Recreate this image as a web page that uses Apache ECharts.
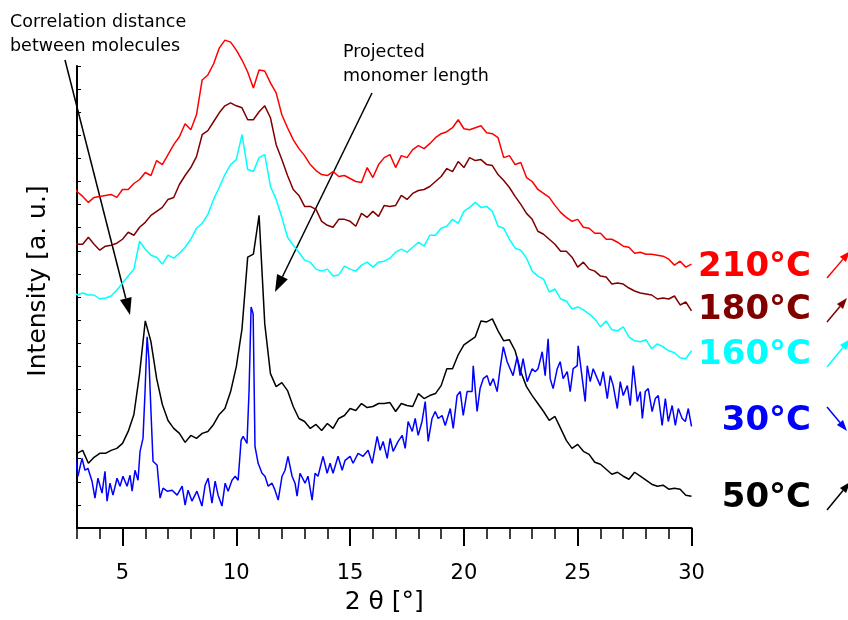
<!DOCTYPE html>
<html><head><meta charset="utf-8">
<script src="https://cdn.jsdelivr.net/npm/echarts@6/dist/echarts.min.js"></script>
<style>html,body{margin:0;padding:0;background:#fff}#c{width:848px;height:620px}</style>
</head><body><div id="c"></div>
<script>
// 2θ sampling positions (degrees) for the smoother curves
const twoTheta = [2.75,
 3,3.25,3.5,3.75, 4,4.25,4.5,4.75, 5,5.25,5.5,5.75, 6,6.25,6.5,6.75, 7,7.25,7.5,7.75,
 8,8.25,8.5,8.75, 9,9.25,9.5,9.75, 10,10.25,10.5,10.75, 11,11.25,11.5,11.75, 12,12.25,12.5,12.75,
 13,13.25,13.5,13.75, 14,14.25,14.5,14.75, 15,15.25,15.5,15.75, 16,16.25,16.5,16.75,
 17,17.25,17.5,17.75, 18,18.25,18.5,18.75, 19,19.25,19.5,19.75, 20,20.25,20.5,20.75,
 21,21.25,21.5,21.75, 22,22.25,22.5,22.75, 23,23.25,23.5,23.75, 24,24.25,24.5,24.75,
 25,25.25,25.5,25.75, 26,26.25,26.5,26.75, 27,27.25,27.5,27.75, 28,28.25,28.5,28.75,
 29,29.25,29.5,29.75, 30];

// intensities [a. u.] (vertically offset curves as in the figure)
const i210 = [345,
 338,333,327,332, 333,334,335,332, 340,340,346,350, 357,354,369,365, 375,385,393,406,
 400,415,450,455, 466,482,490,488, 480,470,458,442, 460,459,447,437, 415,402,390,381,
 374,365,359,355, 354,358,353,354, 351,348,347,362, 352,365,372,375,
 362,374,372,380, 384,381,386,392, 396,398,402,410, 401,400,402,404,
 397,396,392,372, 374,365,367,352, 348,340,336,332, 324,317,312,308,
 310,302,301,296, 296,290,290,287, 283,282,276,277, 275,275,274,273,
 270,264,268,262, 265];
const i180 = [288,
 285,285,292,285, 279,283,284,286, 290,297,294,302, 307,314,318,322, 330,332,345,354,
 362,373,395,399, 408,417,424,427, 424,422,410,410, 418,424,412,385, 370,354,340,334,
 323,323,320,308, 304,302,310,310, 308,303,316,312, 318,313,324,323,
 324,334,330,336, 339,340,343,348, 353,361,358,368, 362,372,369,370,
 365,364,355,349, 342,333,325,316, 310,298,295,290, 285,278,278,272,
 262,267,260,258, 253,252,245,246, 245,241,238,236, 235,234,230,231,
 230,233,224,227, 218];
const i160 = [240,
 234,236,234,234, 230,231,233,239, 246,253,260,288, 280,274,272,265, 274,271,276,282,
 290,301,306,315, 330,342,355,365, 370,395,360,358, 372,375,343,330, 312,292,284,277,
 269,267,260,258, 260,253,254,263, 260,258,264,267, 262,267,268,271,
 277,280,277,282, 287,283,294,294, 301,303,310,306, 318,322,327,322,
 323,318,303,301, 290,281,279,271, 258,253,250,237, 240,230,228,220,
 222,219,215,210, 202,208,199,198, 202,192,188,187, 189,180,185,182,
 178,176,171,170, 178];
const i50 = [90,
 75,78,65,71, 75,75,78,80, 85,97,114,155, 208,187,150,124, 108,100,95,86,
 93,90,95,97, 104,114,120,137, 162,200,272,275, 314,205,155,142, 146,138,122,110,
 107,100,104,98, 105,100,110,113, 120,118,125,121, 122,125,125,126,
 117,125,123,122, 135,130,133,135, 143,160,160,174, 184,188,192,208,
 207,210,198,188, 189,178,157,142, 133,125,117,108, 112,100,88,80,
 84,77,74,66, 64,59,54,56, 52,49,56,52, 48,44,42,43,
 39,40,39,33, 32];

// the noisy 30°C scan, read at finer spacing
const theta30 = [2.82,2.91,3.04,3.22,3.35,3.48,3.66,3.79,3.92,4.10,4.23,4.32,4.45,4.58,4.76,4.89,
 5.02,5.20,5.33,5.42,5.55,5.68,5.77,5.90,5.99,6.08,6.16,6.25,6.34,6.52,6.65,6.78,6.96,
 7.18,7.40,7.62,7.75,7.88,8.05,8.27,8.49,8.63,8.76,8.93,9.07,9.20,9.37,9.51,9.64,9.81,9.95,
 10.08,10.21,10.30,10.47,10.56,10.65,10.74,10.82,10.96,11.13,11.26,11.40,11.57,11.70,11.84,
 12.01,12.14,12.27,12.45,12.58,12.67,12.80,13.02,13.15,13.33,13.46,13.59,13.81,13.99,
 14.12,14.25,14.47,14.65,14.78,15.00,15.13,15.35,15.57,15.79,15.97,16.19,16.32,16.45,16.63,16.76,16.89,
 17.11,17.29,17.42,17.55,17.73,17.86,17.99,18.16,18.30,18.43,18.60,18.74,18.87,
 19.04,19.18,19.40,19.53,19.70,19.84,19.97,20.14,20.36,20.41,20.58,20.71,20.85,
 21.02,21.15,21.29,21.46,21.59,21.73,21.90,22.03,22.16,22.34,22.47,22.60,22.78,
 23.00,23.13,23.26,23.44,23.57,23.70,23.79,23.92,24.10,24.23,24.36,24.54,24.67,24.80,24.98,
 25.02,25.20,25.33,25.42,25.55,25.68,25.86,25.99,26.12,26.30,26.43,26.56,26.74,26.87,
 27.00,27.18,27.31,27.44,27.62,27.75,27.84,27.97,28.10,28.27,28.41,28.54,28.71,28.85,28.98,
 29.15,29.29,29.42,29.59,29.73,29.86,30.00];
const i30 = [72,73,52,70,58,60,47,30,50,35,57,27,45,33,50,42,
 52,42,53,37,58,48,77,90,137,192,170,117,67,63,30,40,37,
 38,33,42,23,38,27,37,22,43,50,25,47,33,22,45,37,48,52,
 48,88,92,85,138,222,215,82,65,55,52,42,45,38,28,
 52,58,72,52,45,32,55,45,52,28,55,52,72,55,
 65,55,72,58,68,72,65,75,72,78,65,92,78,87,70,90,77,
 87,93,80,107,97,110,93,107,127,87,110,117,110,
 113,103,120,100,133,137,113,137,137,163,117,140,150,
 153,143,150,137,160,182,167,160,153,172,153,170,147,
 160,157,160,177,153,190,150,140,160,167,150,157,137,160,163,
 183,150,127,163,147,160,150,143,157,130,153,143,120,147,
 133,143,123,163,127,137,110,137,140,117,130,133,103,130,107,
 123,103,120,110,107,120,102];

const seriesNames = ['50°C','30°C','160°C','180°C','210°C'];
const seriesColors = ['#000000','#0000ff','#00ffff','#800000','#ff0000'];
const seriesX = [twoTheta, theta30, twoTheta, twoTheta, twoTheta];
const seriesY = [i50, i30, i160, i180, i210];

const xMajorTicks = [5,10,15,20,25,30];
const xMinorTicks = [3,4,5,6,7,8,9,10,11,12,13,14,15,16,17,18,19,20,21,22,23,24,25,26,27,28,29,30];

const FONT = '"DejaVu Sans", "Liberation Sans", sans-serif';

function arrow(x1, y1, x2, y2, color, hl, hw, lw) {
  const a = Math.atan2(y2 - y1, x2 - x1);
  const c = Math.cos(a), s = Math.sin(a);
  const bx = x2 - hl * c, by = y2 - hl * s;
  const px = -s * hw / 2, py = c * hw / 2;
  return [
    {type: 'line', silent: true, shape: {x1: x1, y1: y1, x2: bx, y2: by}, style: {stroke: color, lineWidth: lw}},
    {type: 'polygon', silent: true, shape: {points: [[x2, y2], [bx + px, by + py], [bx - px, by - py]]}, style: {fill: color}}
  ];
}

const labelPos = [  // right-hand temperature labels (pixel layout)
  {t: '210°C', c: '#ff0000', y: 267, a: [827, 278, 850, 251]},
  {t: '180°C', c: '#800000', y: 310, a: [827, 322, 847, 298]},
  {t: '160°C', c: '#00ffff', y: 355, a: [827, 367, 850, 339]},
  {t: '30°C',  c: '#0000ff', y: 421, a: [827, 407, 847, 431]},
  {t: '50°C',  c: '#000000', y: 498, a: [827, 510, 850, 482]}
];

const graphics = [];
labelPos.forEach(function (l) {
  graphics.push({type: 'text', silent: true, style: {x: 811, y: l.y, text: l.t, fill: l.c,
    font: 'bold 34px ' + FONT, align: 'right', verticalAlign: 'middle'}});
  arrow(l.a[0], l.a[1], l.a[2], l.a[3], l.c, 11, 8, 1.5).forEach(function (g) { graphics.push(g); });
});
graphics.push({type: 'text', silent: true, style: {x: 10, y: 22, text: 'Correlation distance', fill: '#000', font: '17.5px ' + FONT, align: 'left', verticalAlign: 'middle'}});
graphics.push({type: 'text', silent: true, style: {x: 10, y: 46, text: 'between molecules', fill: '#000', font: '17.5px ' + FONT, align: 'left', verticalAlign: 'middle'}});
graphics.push({type: 'text', silent: true, style: {x: 343, y: 52, text: 'Projected', fill: '#000', font: '17.5px ' + FONT, align: 'left', verticalAlign: 'middle'}});
graphics.push({type: 'text', silent: true, style: {x: 343, y: 76, text: 'monomer length', fill: '#000', font: '17.5px ' + FONT, align: 'left', verticalAlign: 'middle'}});
graphics.push({type: 'text', silent: true, x: 38, y: 281, rotation: Math.PI / 2,
  style: {x: 0, y: 0, text: 'Intensity [a. u.]', fill: '#000', font: '25px ' + FONT, align: 'center', verticalAlign: 'middle'}});
arrow(65, 60, 130, 315, '#000', 17, 12, 1.5).forEach(function (g) { graphics.push(g); });
arrow(372, 93, 275, 292, '#000', 17, 12, 1.5).forEach(function (g) { graphics.push(g); });

const chart = echarts.init(document.getElementById('c'), null, {renderer: 'canvas'});
chart.setOption({
  animation: false,
  backgroundColor: '#ffffff',
  grid: {left: 77, right: 156.5, top: 66, bottom: 90, containLabel: false},
  xAxis: [{
    type: 'value', min: 3, max: 30, position: 'bottom',
    name: '2 θ [°]', nameLocation: 'middle', nameGap: 62,
    nameTextStyle: {fontFamily: FONT, fontSize: 25, color: '#000'},
    axisLine: {show: true, lineStyle: {color: '#000', width: 2}},
    axisTick: {show: true, customValues: xMajorTicks, length: 18, lineStyle: {color: '#000', width: 2}},
    axisLabel: {show: true, customValues: xMajorTicks, margin: 35, fontFamily: FONT, fontSize: 21, color: '#000'},
    splitLine: {show: false}
  }, {
    type: 'value', min: 3, max: 30, position: 'bottom',
    axisLine: {show: false},
    axisTick: {show: true, customValues: xMinorTicks, length: 11, lineStyle: {color: '#000', width: 1.5}},
    axisLabel: {show: false},
    splitLine: {show: false}
  }],
  yAxis: {
    type: 'value', min: 0, max: 464, interval: 23.2,
    axisLine: {show: true, lineStyle: {color: '#000', width: 2}},
    axisTick: {show: true, inside: true, length: 4, lineStyle: {color: '#000', width: 1}},
    axisLabel: {show: false},
    splitLine: {show: false}
  },
  series: seriesY.map(function (vals, k) {
    const xs = seriesX[k];
    return {
      name: seriesNames[k], type: 'line', xAxisIndex: 0, showSymbol: false, clip: false,
      lineStyle: {color: seriesColors[k], width: 1.5}, itemStyle: {color: seriesColors[k]},
      data: xs.map(function (t, i) { return [t, vals[i]]; }),
      z: 2 + k
    };
  }),
  graphic: graphics
});
</script></body></html>
